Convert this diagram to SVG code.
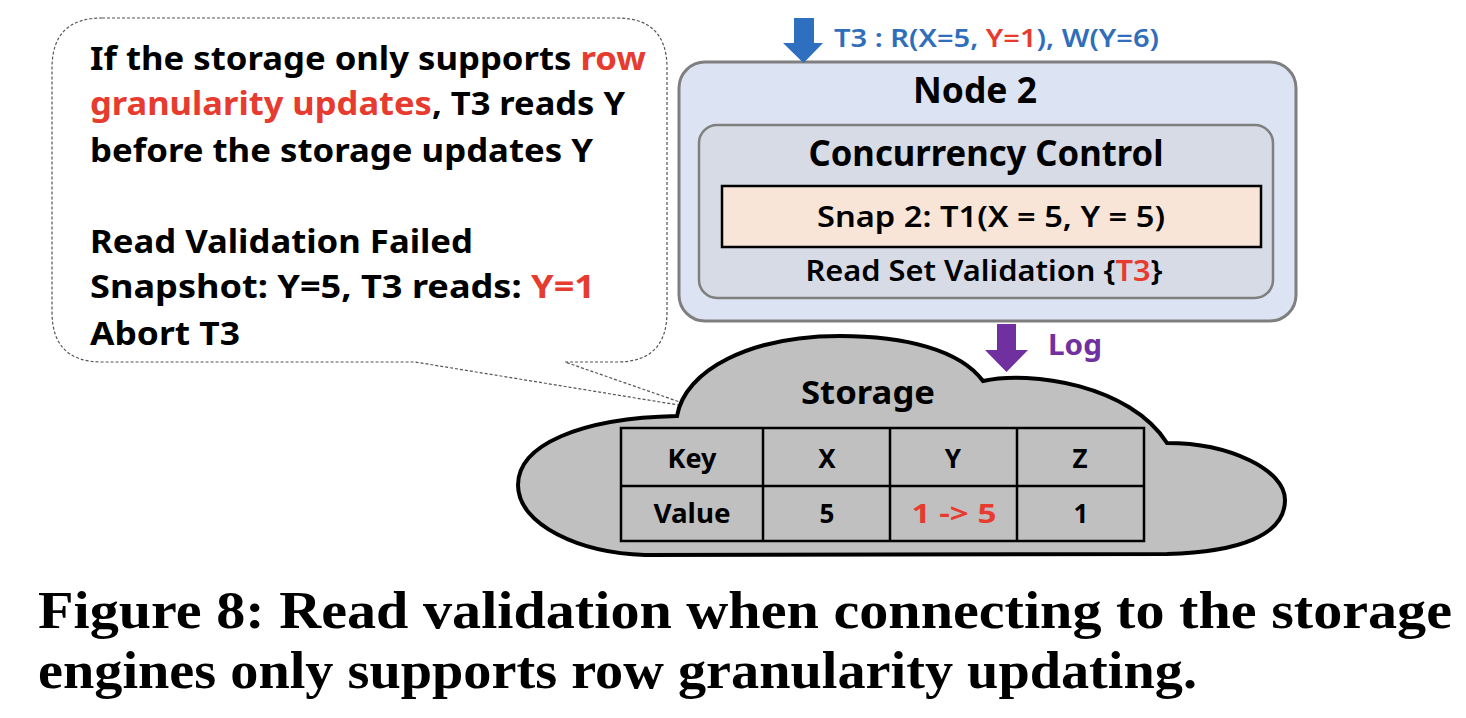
<svg xmlns="http://www.w3.org/2000/svg" width="1466" height="718" viewBox="0 0 1466 718">
<style>
.sans{font-family:"Noto Sans","Liberation Sans",sans-serif;font-weight:700;}
.bub{font-size:32px;fill:#000;}
.tbl{font-size:26px;fill:#000;text-anchor:middle;}
.cap{font-family:"Liberation Serif","DejaVu Serif",serif;font-weight:700;font-size:52px;fill:#000;}
.red{fill:#e63b2e;}
</style>
<rect width="1466" height="718" fill="#fff"/>
<g id="callout">
<path d="M102,18 H617 Q667,18 667,68 V312 Q667,362 617,362 H565 L697,408 L415,362 H102 Q52,362 52,312 V68 Q52,18 102,18 Z" fill="#fff" stroke="#555" stroke-width="1.2" stroke-dasharray="3 2"/>
<text class="sans bub" x="90" y="70" textLength="556" lengthAdjust="spacingAndGlyphs">If the storage only supports <tspan class="red">row</tspan></text>
<text class="sans bub" x="90" y="115" textLength="535" lengthAdjust="spacingAndGlyphs"><tspan class="red">granularity updates</tspan>, T3 reads Y</text>
<text class="sans bub" x="90" y="162" textLength="503" lengthAdjust="spacingAndGlyphs">before the storage updates Y</text>
<text class="sans bub" x="90" y="253" textLength="383" lengthAdjust="spacingAndGlyphs">Read Validation Failed</text>
<text class="sans bub" x="90" y="298" textLength="505" lengthAdjust="spacingAndGlyphs">Snapshot: Y=5, T3 reads: <tspan class="red">Y=1</tspan></text>
<text class="sans bub" x="90" y="345" textLength="150" lengthAdjust="spacingAndGlyphs">Abort T3</text>
</g>
<g id="node2">
<rect x="679" y="62" width="617" height="259" rx="26" fill="#dce3f2" stroke="#7f7f7f" stroke-width="3"/>
<text class="sans" x="975" y="103" font-size="36" text-anchor="middle" textLength="124" lengthAdjust="spacingAndGlyphs">Node 2</text>
<g id="concurrency-control">
<rect x="699" y="125" width="574" height="173" rx="18" fill="#d6dbe5" stroke="#7f7f7f" stroke-width="2.5"/>
<text class="sans" x="986" y="166" font-size="36" text-anchor="middle" textLength="355" lengthAdjust="spacingAndGlyphs">Concurrency Control</text>
<text class="sans" x="984" y="281" font-size="29" text-anchor="middle" textLength="357" lengthAdjust="spacingAndGlyphs" style="font-weight:600">Read Set Validation {<tspan class="red">T3</tspan>}</text>
</g>
<g id="snap2">
<rect x="722" y="186" width="539" height="61" fill="#f8e5d7" stroke="#000" stroke-width="2.5"/>
<text class="sans" x="991" y="227" font-size="29" text-anchor="middle" textLength="348" lengthAdjust="spacingAndGlyphs" style="font-weight:600">Snap 2: T1(X = 5, Y = 5)</text>
</g>
</g>
<g id="storage">
<path d="M677,416 C685,370 750,336 840,336 C905,336 960,350 983,381 C1030,370 1130,385 1167,443 C1230,443 1285,470 1285,500 C1285,535 1240,552 1167,554 L645,555 C580,553 518,525 518,485 C518,445 580,418 677,416 Z" fill="#c0c0c0" stroke="#000" stroke-width="4"/>
<text class="sans" x="868" y="404" font-size="32" text-anchor="middle" textLength="134" lengthAdjust="spacingAndGlyphs">Storage</text>
<g id="table" fill="none" stroke="#000" stroke-width="2.5">
<rect x="621" y="428" width="523" height="113"/>
<line x1="621" y1="486" x2="1144" y2="486"/>
<line x1="763" y1="428" x2="763" y2="541"/>
<line x1="890" y1="428" x2="890" y2="541"/>
<line x1="1017" y1="428" x2="1017" y2="541"/>
</g>
<text class="sans tbl" x="692" y="468" textLength="49" lengthAdjust="spacingAndGlyphs">Key</text>
<text class="sans tbl" x="827" y="468">X</text>
<text class="sans tbl" x="953" y="468">Y</text>
<text class="sans tbl" x="1080" y="468">Z</text>
<text class="sans tbl" x="692" y="523" textLength="77" lengthAdjust="spacingAndGlyphs">Value</text>
<text class="sans tbl" x="827" y="523">5</text>
<text class="sans tbl red" x="954" y="523" textLength="85" lengthAdjust="spacingAndGlyphs">1 -&gt; 5</text>
<text class="sans tbl" x="1081" y="523">1</text>
</g>
<g id="connectors">
<polygon points="794,18 814,18 814,43 823,43 803.5,63 783,43 794,43" fill="#2e6fc0"/>
<text class="sans" x="834" y="47" font-size="26" fill="#2f6eba" textLength="325" lengthAdjust="spacingAndGlyphs" style="font-weight:600">T3 : R(X=5, <tspan class="red">Y=1</tspan>), W(Y=6)</text>
<polygon points="997,324 1016,324 1016,350 1028,350 1006.5,372 985,350 997,350" fill="#7030a0"/>
<text class="sans" x="1048" y="355" font-size="28" fill="#7030a0" textLength="54" lengthAdjust="spacingAndGlyphs">Log</text>
</g>
<g id="caption">
<text class="cap" x="38" y="628" textLength="1414" lengthAdjust="spacingAndGlyphs">Figure 8: Read validation when connecting to the storage</text>
<text class="cap" x="38" y="688" textLength="1159" lengthAdjust="spacingAndGlyphs">engines only supports row granularity updating.</text>
</g>
</svg>
